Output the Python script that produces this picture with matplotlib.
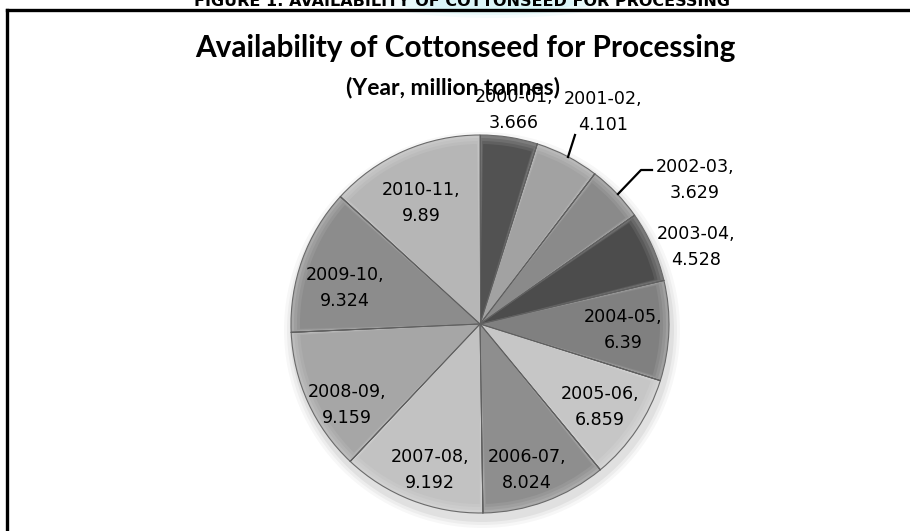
import matplotlib
matplotlib.use("Agg")
import matplotlib.pyplot as plt
from matplotlib.patches import Wedge, Ellipse
import numpy as np

# ---- data ----
years = ["2000-01", "2001-02", "2002-03", "2003-04", "2004-05", "2005-06",
         "2006-07", "2007-08", "2008-09", "2009-10", "2010-11"]
values = [3.666, 4.101, 3.629, 4.528, 6.39, 6.859, 8.024, 9.192, 9.159, 9.324, 9.89]
value_labels = ["3.666", "4.101", "3.629", "4.528", "6.39", "6.859",
                "8.024", "9.192", "9.159", "9.324", "9.89"]
colors = ["#525252", "#a2a2a2", "#8a8a8a", "#4c4c4c", "#808080", "#c6c6c6",
          "#8e8e8e", "#c2c2c2", "#a6a6a6", "#8c8c8c", "#b6b6b6"]

title = "Availability of Cottonseed for Processing"
subtitle = "(Year, million tonnes)"
header = "FIGURE 1: AVAILABILITY OF COTTONSEED FOR PROCESSING"

W, H = 910, 531
fig = plt.figure(figsize=(W / 100, H / 100), dpi=100)
ax = fig.add_axes([0, 0, 1, 1])

def Y(y):
    return H - y

cx, cy, R = 480, 324, 189

# soft shadow under pie
for i, a in enumerate([0.05, 0.04, 0.03]):
    ax.add_patch(Ellipse((cx + 2, Y(cy) - 6), 2 * R + 6 + 6 * i, 2 * R + 6 + 6 * i,
                         facecolor="#000000", alpha=a, edgecolor="none", zorder=1))

wedges, _ = ax.pie(values, colors=colors, startangle=90, counterclock=False,
                   center=(cx, Y(cy)), radius=R,
                   wedgeprops=dict(edgecolor="#6a6a6a", linewidth=0.8))
for w in wedges:
    w.set_zorder(2)

def blend(c, t):
    rgb = np.array(matplotlib.colors.to_rgb(c))
    return tuple(rgb + (1 - rgb) * t)

# bevel look: lighter rim + inner body
for w, c in zip(wedges, colors):
    t1, t2 = w.theta1, w.theta2
    w.set_facecolor(blend(c, 0.25))
    for k, (dr, bl) in enumerate([(3, 0.16), (6, 0.08), (9, 0.0)]):
        ax.add_patch(Wedge((cx, Y(cy)), R - dr, t1 + 0.4 + 0.3 * k, t2 - 0.4 - 0.3 * k,
                           facecolor=blend(c, bl), edgecolor="none", zorder=3 + k * 0.1))
    for t in (t1, t2):
        ax.plot([cx, cx + R * np.cos(np.radians(t))],
                [Y(cy), Y(cy) + R * np.sin(np.radians(t))],
                color="#606060", lw=0.7, zorder=4)

ax.set_xlim(0, W)
ax.set_ylim(0, H)
ax.set_aspect("auto")
ax.axis("off")

# frame
ax.plot([7, 7], [Y(10), -5], color="black", lw=2.4, zorder=5, clip_on=False)
ax.plot([7, W + 5], [Y(10), Y(10)], color="black", lw=2.4, zorder=5, clip_on=False)

# header (cut off at top) with glow
for i, a in enumerate([0.18, 0.14, 0.10]):
    ax.add_patch(Ellipse((495, Y(3)), 160 + 30 * i, 18 + 6 * i, facecolor="#9fe8f0",
                         alpha=a, edgecolor="none", zorder=0))
ax.text(462, Y(5.5), header, ha="center", va="baseline", fontsize=11.5,
        fontweight="bold", family="DejaVu Sans Condensed", zorder=6)

ax.text(465, Y(48), title, ha="center", va="center", fontsize=21.4,
        fontweight="bold", family="Lato", zorder=6)
ax.text(453, Y(88), subtitle, ha="center", va="center", fontsize=16.5,
        fontweight="bold", family="Lato", zorder=6)

# data labels
label_pos = [(514, 110), (603, 112), (695, 180), (696, 247), (623, 330),
             (600, 407), (527, 470), (430, 470), (347, 405), (345, 288), (421, 203)]
for yr, vl, (lx, ly) in zip(years, value_labels, label_pos):
    ax.text(lx, Y(ly), f"{yr},\n{vl}", ha="center", va="center", fontsize=12.6,
            family="DejaVu Sans", linespacing=1.55, zorder=7)

# leader lines
ax.plot([575, 568], [Y(135), Y(157)], color="black", lw=1.6, zorder=7)
ax.plot([652, 641, 618], [Y(170), Y(170), Y(194)], color="black", lw=1.6, zorder=7)

fig.savefig("out.png", dpi=100)
